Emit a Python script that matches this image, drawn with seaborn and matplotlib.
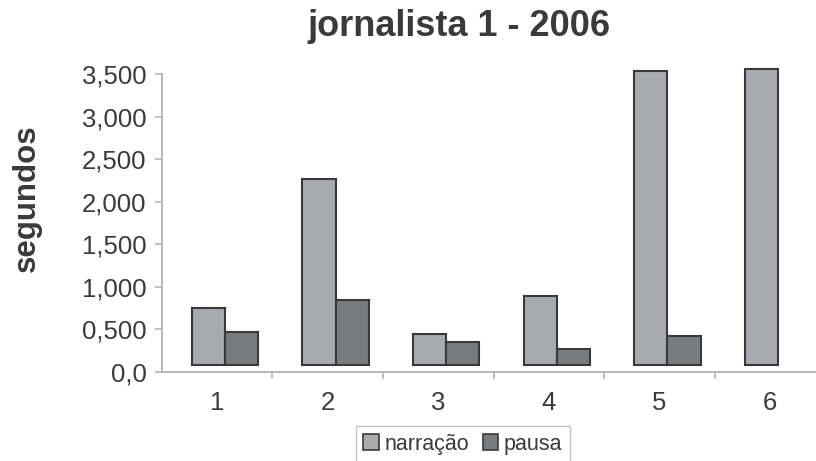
import numpy as np
import pandas as pd
import matplotlib
matplotlib.use("Agg")
import matplotlib.pyplot as plt
from matplotlib.patches import Patch
from matplotlib.transforms import ScaledTranslation
import seaborn as sns

# ---- data -------------------------------------------------------------
categories = ["1", "2", "3", "4", "5", "6"]
series = ["narração", "pausa"]
narracao = [0.744, 2.261, 0.438, 0.892, 3.535, 3.555]
pausa = [0.461, 0.847, 0.347, 0.265, 0.421, None]
y_ticks = [0.0, 0.5, 1.0, 1.5, 2.0, 2.5, 3.0, 3.5]
y_tick_labels = ["0,0", "0,500", "1,000", "1,500", "2,000", "2,500", "3,000", "3,500"]
title = "jornalista 1 - 2006"
y_title = "segundos"

# ---- style ------------------------------------------------------------
sns.set_theme(style="white")
plt.rcParams["font.family"] = ["Liberation Sans", "DejaVu Sans"]

text_color = "#3a3a3a"
axis_color = "#b5b5b5"
edge_color = "#38393b"
colors = {"narração": "#a8aaad", "pausa": "#7a7b7d"}

rows = []
for cat, n, p in zip(categories, narracao, pausa):
    rows.append({"grupo": cat, "serie": "narração", "valor": n})
    if p is not None:
        rows.append({"grupo": cat, "serie": "pausa", "valor": p})
df = pd.DataFrame(rows)

fig = plt.figure(figsize=(8.16, 4.61), dpi=100)
ax = fig.add_axes([0.1982, 0.1941, 0.8132, 0.6453])

sns.barplot(
    data=df, x="grupo", y="valor", hue="serie",
    order=categories, hue_order=series, palette=colors,
    width=0.6, saturation=1, edgecolor=edge_color, linewidth=1.5,
    errorbar=None, legend=False, ax=ax,
)

# bars sit on a slight floor and are nudged right, as in the printed figure
floor = 0.08
shift = ScaledTranslation(8 / 100, 0, fig.dpi_scale_trans)
for bar in ax.patches:
    top = bar.get_y() + bar.get_height()
    if np.isnan(top):
        continue
    bar.set_y(floor)
    bar.set_height(top - floor)
    bar.set_transform(ax.transData + shift)
    bar.set_clip_on(False)

ax.set_xlim(-0.5, len(categories) - 0.5)
ax.set_ylim(0, 3.5)

ax.set_yticks(y_ticks)
ax.set_yticklabels(y_tick_labels)
ax.set_xticks(range(len(categories)))
ax.set_xticklabels(categories)
ax.set_xticks(np.arange(0.5, len(categories) - 0.5, 1.0), minor=True)

ax.tick_params(axis="y", which="major", length=5, width=1.2, color=axis_color,
               labelsize=18.5, labelcolor=text_color, pad=6, left=True)
ax.tick_params(axis="x", which="major", length=0, labelsize=18.5,
               labelcolor=text_color, pad=14)
ax.tick_params(axis="x", which="minor", length=5, width=1.2, color=axis_color,
               bottom=True)

for side in ("top", "right"):
    ax.spines[side].set_visible(False)
for side in ("left", "bottom"):
    ax.spines[side].set_color(axis_color)
    ax.spines[side].set_linewidth(1.4)

ax.set_xlabel("")
ax.set_ylabel("")
ax.grid(False)

fig.text(459 / 816, 1 - 36 / 461, title, ha="center", va="baseline",
         fontsize=26, fontweight="bold", color=text_color)
fig.text(27 / 816, 1 - 198 / 461, y_title, ha="center", va="center",
         rotation=90, fontsize=22.5, fontweight="bold", color=text_color)

handles = [Patch(facecolor=colors[s], edgecolor=edge_color, linewidth=1.2, label=s)
           for s in series]
leg = fig.legend(
    handles=handles, loc="upper center", bbox_to_anchor=(463 / 816, 1 - 426 / 461),
    ncol=2, frameon=True, fancybox=False, fontsize=15.5, handlelength=0.7,
    handleheight=0.7, handletextpad=0.3, columnspacing=0.6, borderpad=0.35,
    borderaxespad=0,
)
leg.get_frame().set_edgecolor(axis_color)
leg.get_frame().set_linewidth(1.0)
for t in leg.get_texts():
    t.set_color(text_color)

fig.savefig("out.png", dpi=100, facecolor="white")
